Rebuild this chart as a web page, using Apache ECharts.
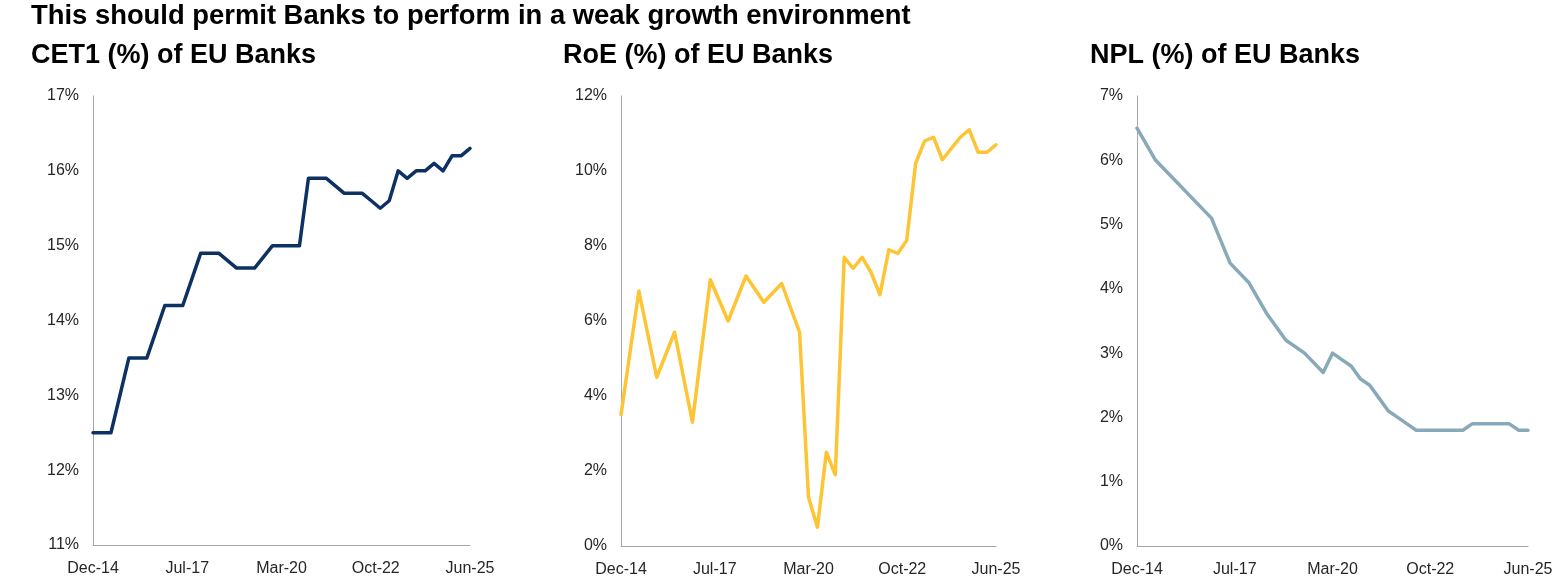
<!DOCTYPE html>
<html>
<head>
<meta charset="utf-8">
<script src="https://cdn.jsdelivr.net/npm/echarts@6/dist/echarts.min.js"></script>
<style>
  html, body { margin: 0; padding: 0; background: #fff; }
  #chart { width: 1562px; height: 582px; }
</style>
</head>
<body>
<div id="chart"></div>
<script>
// quarter index 0 = Dec-14 ... 42 = Jun-25 (half-yearly points before Mar-20)
const xTickLabels = ['Dec-14', 'Jul-17', 'Mar-20', 'Oct-22', 'Jun-25'];

const cet1 = [12.5, null, 12.5, null, 13.5, null, 13.5, null, 14.2, null, 14.2, null,
    14.9, null, 14.9, null, 14.7, null, 14.7, null, 15.0, 15.0, 15.0, 15.0,
    15.9, 15.9, 15.9, 15.8, 15.7, 15.7, 15.7, 15.6, 15.5, 15.6, 16.0, 15.9,
    16.0, 16.0, 16.1, 16.0, 16.2, 16.2, 16.3];

const roe = [3.5, null, 6.8, null, 4.5, null, 5.7, null, 3.3, null, 7.1, null,
    6.0, null, 7.2, null, 6.5, null, 7.0, null, 5.7, 1.3, 0.5, 2.5,
    1.9, 7.7, 7.4, 7.7, 7.3, 6.7, 7.9, 7.8, 8.15, 10.2, 10.8, 10.9,
    10.3, 10.6, 10.9, 11.1, 10.5, 10.5, 10.7];

const npl = [6.5, null, 6.0, null, 5.7, null, 5.4, null, 5.1, null, 4.4, null,
    4.1, null, 3.6, null, 3.2, null, 3.0, null, 2.7, 3.0, 2.9, 2.8,
    2.6, 2.5, 2.3, 2.1, 2.0, 1.9, 1.8, 1.8, 1.8, 1.8, 1.8, 1.8,
    1.9, 1.9, 1.9, 1.9, 1.9, 1.8, 1.8];

const panels = [
    {title: 'CET1 (%) of EU Banks', data: cet1, color: '#0d3163', min: 11, max: 17, interval: 1,
        grid: {left: 93, right: 1092, top: 96, bottom: 37}, titleLeft: 31},
    {title: 'RoE (%) of EU Banks', data: roe, color: '#fdc434', min: 0, max: 12, interval: 2,
        grid: {left: 621, right: 566, top: 96, bottom: 36}, titleLeft: 563},
    {title: 'NPL (%) of EU Banks', data: npl, color: '#88a9b7', min: 0, max: 7, interval: 1,
        grid: {left: 1137, right: 34, top: 96, bottom: 36}, titleLeft: 1090}
];

const font = 'Liberation Sans';
const step = 42 / (xTickLabels.length - 1);

let option = {
    animation: false,
    backgroundColor: '#fff',
    title: [{
        text: 'This should permit Banks to perform in a weak growth environment',
        left: 31, top: 3, padding: 0,
        textStyle: {fontFamily: font, fontSize: 27.4, fontWeight: 'bold', color: '#000'}
    }],
    grid: [], xAxis: [], yAxis: [], series: []
};

panels.forEach(function (p, i) {
    option.title.push({
        text: p.title, left: p.titleLeft, top: 42, padding: 0,
        textStyle: {fontFamily: font, fontSize: 27, fontWeight: 'bold', color: '#000'}
    });
    option.grid.push(p.grid);
    option.xAxis.push({
        type: 'value', gridIndex: i, min: 0, max: 42, interval: step,
        axisLine: {show: true, lineStyle: {color: '#a6a6a6', width: 1}},
        axisTick: {show: false},
        splitLine: {show: false},
        axisLabel: {
            fontFamily: font, fontSize: 16, color: '#262626', margin: 16,
            showMinLabel: true, showMaxLabel: true,
            formatter: function (v) { return xTickLabels[Math.round(v / step)]; }
        }
    });
    option.yAxis.push({
        type: 'value', gridIndex: i, min: p.min, max: p.max, interval: p.interval,
        axisLine: {show: true, lineStyle: {color: '#a6a6a6', width: 1}},
        axisTick: {show: false},
        splitLine: {show: false},
        axisLabel: {fontFamily: font, fontSize: 16, color: '#262626', margin: 14, formatter: '{value}%'}
    });
    option.series.push({
        type: 'line', xAxisIndex: i, yAxisIndex: i,
        data: p.data.map(function (v, k) { return [k, v]; }),
        connectNulls: true, showSymbol: false, symbol: 'none',
        lineStyle: {color: p.color, width: 3.5, join: 'round', cap: 'round'}
    });
});

let chart = echarts.init(document.getElementById('chart'));
chart.setOption(option);
</script>
</body>
</html>
